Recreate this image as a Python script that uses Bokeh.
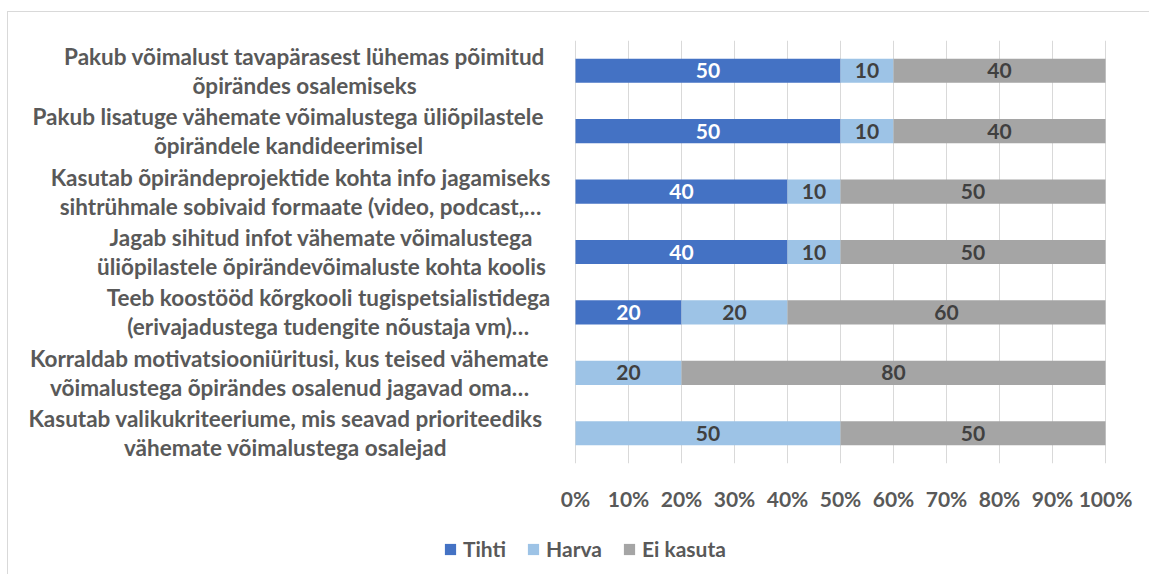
from bokeh.plotting import figure
from bokeh.layouts import column
from bokeh.models import (ColumnDataSource, Legend, LegendItem, FixedTicker,
                          NumeralTickFormatter, FactorRange, Range1d)
from bokeh.embed import file_html
from bokeh.resources import INLINE
from bokeh.core.properties import value

# ---------------- data ----------------
categories = [
    "Pakub võimalust tavapärasest lühemas põimitud\nõpirändes osalemiseks",
    "Pakub lisatuge vähemate võimalustega üliõpilastele\nõpirändele kandideerimisel",
    "Kasutab õpirändeprojektide kohta info jagamiseks\nsihtrühmale sobivaid formaate (video, podcast,…",
    "Jagab sihitud infot vähemate võimalustega\nüliõpilastele õpirändevõimaluste kohta koolis",
    "Teeb koostööd kõrgkooli tugispetsialistidega\n(erivajadustega tudengite nõustaja vm)…",
    "Korraldab motivatsiooniüritusi, kus teised vähemate\nvõimalustega õpirändes osalenud jagavad oma…",
    "Kasutab valikukriteeriume, mis seavad prioriteediks\nvähemate võimalustega osalejad",
]
tihti = [50, 50, 40, 40, 20, 0, 0]
harva = [10, 10, 10, 10, 20, 20, 50]
ei_kasuta = [40, 40, 50, 50, 60, 80, 50]
series_names = ["Tihti", "Harva", "Ei kasuta"]
x_ticks = [0, 0.1, 0.2, 0.3, 0.4, 0.5, 0.6, 0.7, 0.8, 0.9, 1.0]

# ---------------- style / layout ----------------
colors = ["#4472C4", "#9DC3E6", "#A5A5A5"]
label_colors = ["#FFFFFF", "#404040", "#404040"]
FONT = value("Lato")
TEXT_COLOR = "#595959"
FS = "21px"
FS_CAT = "22.5px"

ORIGIN_X, ORIGIN_Y = 8, 12         # page position of figure content
W = 1141
H_MAIN, H_LEG = 508, 54
AX0, AX1 = 575, 1105               # page x of 0% and 100%
PX = AX1 - AX0                     # pixels per 100%
FRAME_TOP, FRAME_H = 40, 423
label_centers_page = [304, 288, 300, 321, 328, 289, 285]

series = [tihti, harva, ei_kasuta]
src_data = {"cat": categories}
for name, vals in zip(series_names, series):
    src_data[name] = [v / 100 for v in vals]
src = ColumnDataSource(src_data)

p = figure(width=W, height=H_MAIN,
           y_range=FactorRange(*reversed(categories)),
           x_range=Range1d((ORIGIN_X - AX0) / PX, (ORIGIN_X + W - AX0) / PX),
           output_backend="svg", toolbar_location=None,
           min_border_left=0, min_border_right=0,
           min_border_top=FRAME_TOP - ORIGIN_Y,
           min_border_bottom=H_MAIN - (FRAME_TOP - ORIGIN_Y) - FRAME_H)

renderers = p.hbar_stack(series_names, y="cat", height=0.4, color=colors,
                         line_color=None, source=src)

# value labels inside segments
bx, by, bt, bc = [], [], [], []
for i, cat in enumerate(categories):
    start = 0.0
    for s, vals in enumerate(series):
        v = vals[i]
        if v > 0:
            bx.append(start + v / 200)
            by.append(cat)
            bt.append(str(v))
            bc.append(label_colors[s])
        start += v / 100
bar_lbl_src = ColumnDataSource(dict(x=bx, y=by, text=bt, color=bc))
p.text(x="x", y="y", text="text", source=bar_lbl_src,
       text_align="center", text_baseline="middle",
       text_color="color", text_font=FONT,
       text_font_style="bold", text_font_size=FS)

# category labels (lines centred, block beside the axis)
cat_src = ColumnDataSource(dict(
    lx=[(c - AX0) / PX for c in label_centers_page],
    cat=categories))
p.text(x="lx", y="cat", text="cat", source=cat_src,
       text_align="center", text_baseline="middle",
       text_line_height=1.07,
       text_color=TEXT_COLOR, text_font=FONT,
       text_font_style="bold", text_font_size=FS_CAT)

# axes / grid
p.yaxis.visible = False
p.xaxis.ticker = FixedTicker(ticks=x_ticks)
p.xaxis.formatter = NumeralTickFormatter(format="0%")
p.xaxis.axis_line_color = None
p.xaxis.major_tick_line_color = None
p.xaxis.minor_tick_line_color = None
p.xaxis.major_tick_out = 0
p.xaxis.major_tick_in = 0
p.xaxis.major_label_standoff = 22
p.xaxis.major_label_text_font = "Lato"
p.xaxis.major_label_text_font_style = "bold"
p.xaxis.major_label_text_font_size = FS
p.xaxis.major_label_text_color = TEXT_COLOR
p.xgrid.ticker = FixedTicker(ticks=x_ticks)
p.xgrid.grid_line_color = "#D9D9D9"
p.xgrid.grid_line_width = 1
p.ygrid.grid_line_color = None
p.outline_line_color = None

# legend strip (own small figure below the chart); proxy glyphs sit outside its visible range
lf = figure(width=W, height=H_LEG, x_range=Range1d(0, W), y_range=Range1d(0, H_LEG),
            output_backend="svg", toolbar_location=None,
            min_border_left=0, min_border_right=0, min_border_top=0, min_border_bottom=0)
lf.axis.visible = False
lf.grid.visible = False
lf.outline_line_color = None
leg_renderers = [lf.rect(x=[-1000], y=[-1000], width=1, height=1, color=c, line_color=None)
                 for c in colors]
legend = Legend(items=[LegendItem(label=n, renderers=[r]) for n, r in zip(series_names, leg_renderers)],
                location=(435, 13), orientation="horizontal",
                glyph_width=14, glyph_height=14, label_standoff=6, spacing=20,
                padding=0, margin=0, border_line_color=None, background_fill_alpha=0,
                label_text_font="Lato", label_text_font_style="bold",
                label_text_font_size=FS, label_text_color=TEXT_COLOR)
lf.add_layout(legend, "center")

layout = column(p, lf, spacing=0)
layout.styles = {"margin-left": "7px", "margin-top": "11px",
                 "border-top": "1px solid #D9D9D9", "border-left": "1px solid #D9D9D9"}

open("out.html", "w").write(file_html(layout, INLINE))
